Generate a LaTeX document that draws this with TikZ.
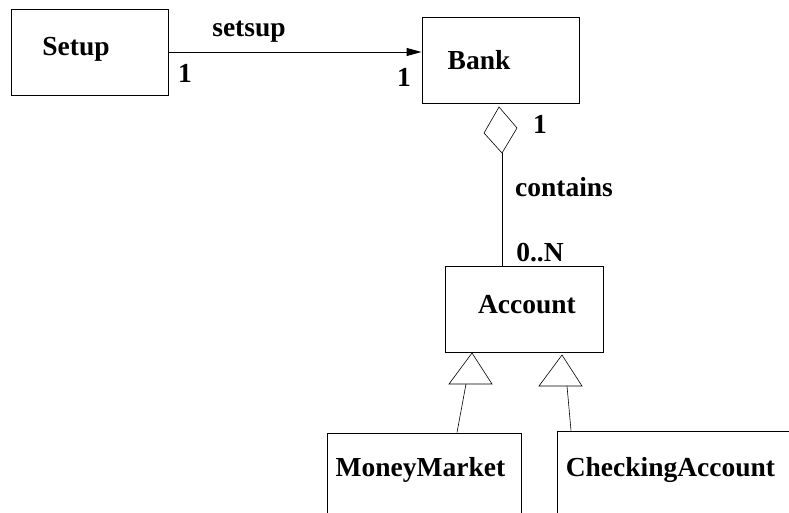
\documentclass[tikz,border=0pt]{standalone}
\usepackage{fontspec}
\setmainfont{Liberation Serif}
\usetikzlibrary{arrows.meta}

\tikzset{
  cls/.style={draw, line width=1pt, inner sep=0pt},
  lbl/.style={font=\fontsize{27.5}{33}\selectfont\bfseries, inner sep=0pt},
  thin line/.style={line width=0.6pt},
}

\begin{document}
\begin{tikzpicture}[x=1pt, y=-1pt]
  \useasboundingbox (0,0) rectangle (789,512);
  \clip (0,0) rectangle (789,512);
  % class boxes
  \node[cls, minimum width=157pt, minimum height=86pt] (setup) at (89.5,52) {};
  \node[cls, minimum width=157pt, minimum height=86pt] (bank) at (500.5,60) {};
  \node[cls, minimum width=158pt, minimum height=86pt] (account) at (524,309) {};
  \node[cls, minimum width=194pt, minimum height=157pt] (mm) at (424,511.5) {};
  \node[cls, minimum width=293pt, minimum height=159pt] (chk) at (703.5,510.5) {};
  % class names
  \node[lbl] (setupname) at (76,49) {Setup};
  \node[lbl] (bankname) at (479,60) {Bank};
  \node[lbl] (accountname) at (527,305) {Account};
  \node[lbl] (mmname) at (420.5,470) {MoneyMarket};
  \node[lbl] (chkname) at (670.5,470) {CheckingAccount};
  % setsup association
  \draw[line width=1pt, -{Triangle[length=15pt, width=8pt]}]
    (setup.east) -- (setup.east -| bank.west);
  \node[lbl] (setsup) at (249,32) {setsup};
  \node[lbl] at (185,73.5) {1};
  \node[lbl] at (404,77) {1};
  % contains aggregation
  \draw[thin line] (499,107) -- (517,128) -- (502,153) coordinate (dbot)
    -- (484,133) -- cycle;
  \draw[line width=0.8pt] (dbot) -- (dbot |- account.north);
  \node[lbl] at (540,124) {1};
  \node[lbl] (contains) at (564,187.5) {contains};
  \node[lbl] at (540,253) {0..N};
  % generalisation
  \foreach \ax/\ay/\bx/\by/\dx/\tgt in {472/353/466/384/33/mm, 562/355/567/386/-132.5/chk} {
    \draw[thin line] (\ax,\ay) -- (\ax-23,\by) -- (\ax+20,\by) -- cycle;
    \draw[thin line] (\bx,\by) -- ([xshift=\dx pt]\tgt.north);
  }
\end{tikzpicture}
\end{document}
